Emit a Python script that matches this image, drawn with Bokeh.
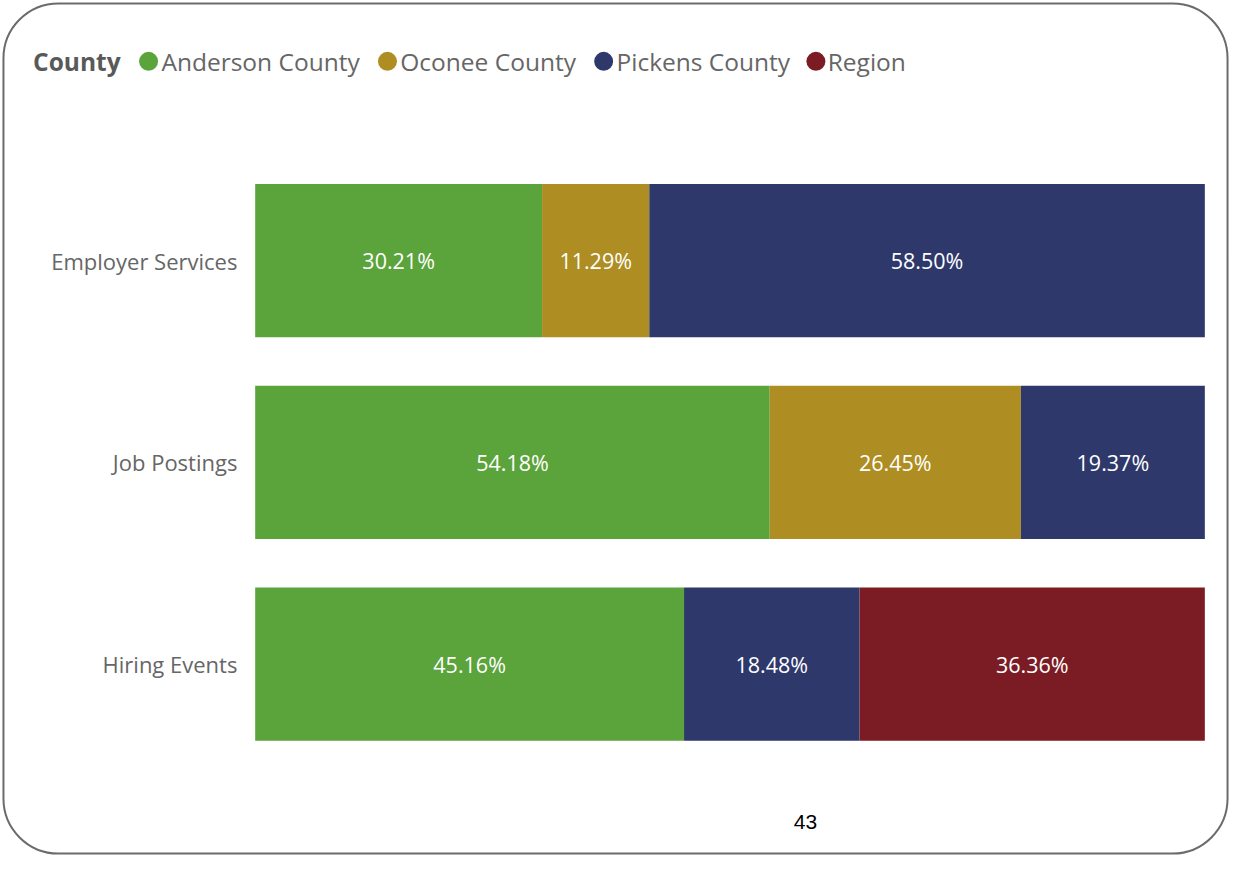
from bokeh.plotting import figure
from bokeh.models import Range1d, ColumnDataSource, BoxAnnotation
from bokeh.core.properties import value
from bokeh.embed import file_html
from bokeh.resources import INLINE

# ---- data ----
categories = ["Employer Services", "Job Postings", "Hiring Events"]
series_names = ["Anderson County", "Oconee County", "Pickens County", "Region"]
anderson = [30.21, 54.18, 45.16]
oconee = [11.29, 26.45, 0.0]
pickens = [58.50, 19.37, 18.48]
region = [0.0, 0.0, 36.36]
colors = ["#5BA33B", "#AE8D22", "#2E386B", "#7B1C24"]
legend_title = "County"
page_number = "43"

# ---- layout (pixels) ----
W, H = 1230, 856
KX, KY = W / 1246.0, H / 872.0

def fx(rx):
    return rx * KX

def fy(ry):
    return ry * KY

X0, X1 = fx(258), fx(1220)          # 0% and 100% positions
SX = (X1 - X0) / 100.0
Y0, SY = fy(265), 205.5 * KY        # first category center, spacing
BAR_H = 156 * KY / SY

def dx(rx):
    return (fx(rx) - X0) / SX

def dy(ry):
    return (fy(ry) - Y0) / SY

p = figure(width=W, height=H, output_backend="svg", toolbar_location=None,
           x_range=Range1d(-X0 / SX, (W - X0) / SX),
           y_range=Range1d((H - Y0) / SY, -Y0 / SY),
           min_border=0, x_axis_location=None, y_axis_location=None)
p.grid.visible = False
p.outline_line_color = None
p.background_fill_color = "white"
p.border_fill_color = "white"

ypos = list(range(len(categories)))
data = {"y": ypos}
keys = ["s0", "s1", "s2", "s3"]
for k, vals in zip(keys, [anderson, oconee, pickens, region]):
    data[k] = vals
src = ColumnDataSource(data)
p.hbar_stack(keys, y="y", height=BAR_H, color=colors, source=src, line_width=0)

# value labels
lx, ly, lt = [], [], []
for i in range(len(categories)):
    cum = 0.0
    for vals in [anderson, oconee, pickens, region]:
        v = vals[i]
        if v > 0:
            lx.append(cum + v / 2)
            ly.append(i)
            lt.append(f"{v:.2f}%")
        cum += v
p.text(x=lx, y=ly, text=lt, text_color="white", text_font=value("Open Sans"),
       text_font_size="21.5px", text_align="center", text_baseline="middle")

# category labels
p.text(x=[dx(240)] * len(categories), y=ypos, text=categories, text_color="#666666",
       text_font=value("Open Sans"), text_font_size="22px", text_align="right",
       text_baseline="middle")

# legend
leg_y = dy(62)
p.text(x=[dx(33)], y=[leg_y], text=[legend_title], text_color="#595959",
       text_font=value("Open Sans"), text_font_style="bold", text_font_size="24.5px",
       text_baseline="middle")
marker_px = [150, 392, 611, 826]
text_px = [163, 405, 624, 838]
p.scatter(x=[dx(m) for m in marker_px], y=[leg_y] * 4, size=19, color=colors, line_width=0)
p.text(x=[dx(t) for t in text_px], y=[leg_y] * 4, text=series_names,
       text_color="#666666", text_font=value("Open Sans"), text_font_size="24.5px",
       text_baseline="middle")

# page number
p.text(x=[dx(815.5)], y=[dy(836.5)], text=[page_number], text_color="black",
       text_font=value("Liberation Sans"), text_font_size="21px",
       text_align="center", text_baseline="middle")

# rounded border
p.add_layout(BoxAnnotation(left=dx(3), right=dx(1243), top=dy(3), bottom=dy(869),
                           fill_alpha=0, line_color="#6B6B6B", line_alpha=1.0,
                           line_width=2, border_radius=55))

open("out.html", "w").write(file_html(p, INLINE))
